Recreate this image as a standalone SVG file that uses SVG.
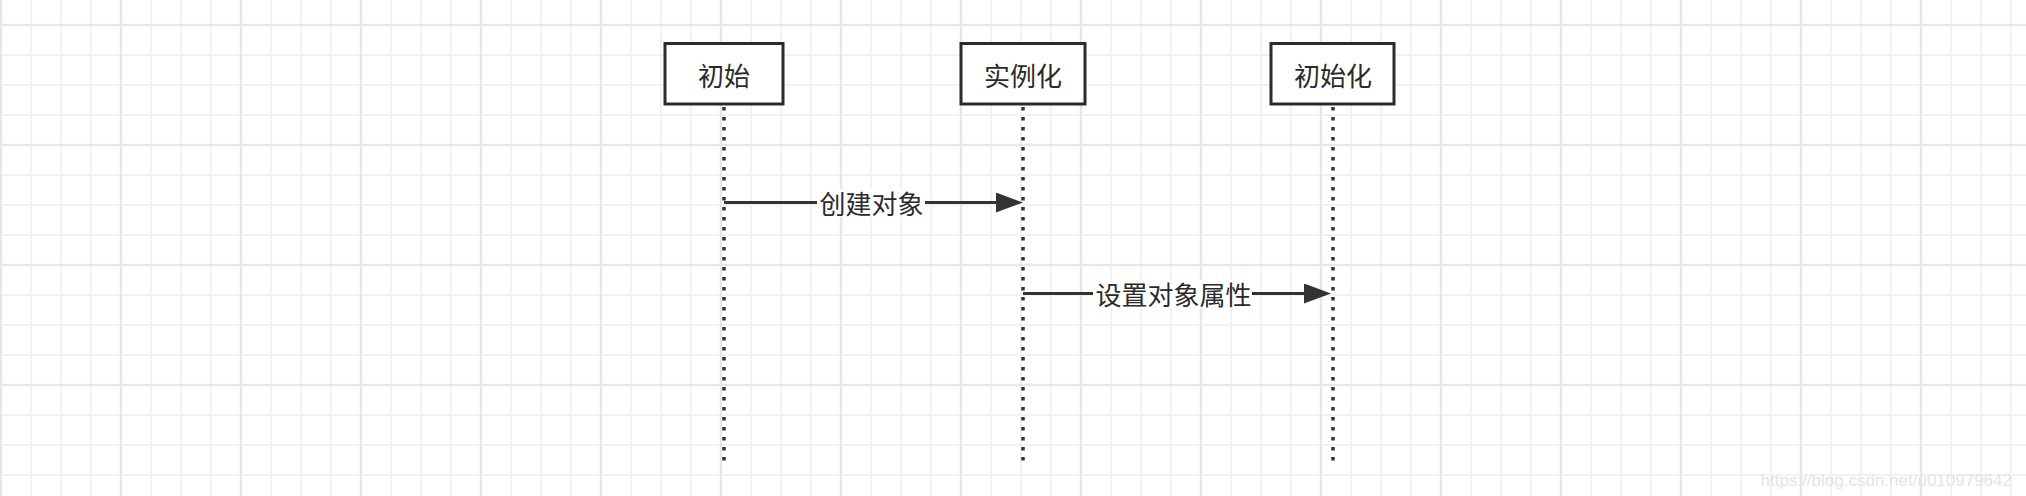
<svg xmlns="http://www.w3.org/2000/svg" width="2026" height="496" viewBox="0 0 2026 496">
  <defs>
    <pattern id="grid" patternUnits="userSpaceOnUse" x="-14" y="10" width="120" height="120">
      <path d="M45,0V120M75,0V120M105,0V120M0,45H120M0,75H120M0,105H120" stroke="#f2f2f2" stroke-width="2" fill="none"/>
      <path d="M15,0V120M0,15H120" stroke="#e7e7e7" stroke-width="2.5" fill="none"/>
    </pattern>
    <marker id="arrow" markerUnits="userSpaceOnUse" viewBox="0 0 27 20" refX="0" refY="10" markerWidth="27" markerHeight="20" orient="auto">
      <path d="M0,0 L27,10 L0,20 Z" fill="#333333"/>
    </marker>
    <style>
      .box { fill: #ffffff; stroke: #2b2b2b; stroke-width: 3; }
      .life { stroke: #333333; stroke-width: 3.5; stroke-dasharray: 3.5 6.5; fill: none; }
      .msg { stroke: #333333; stroke-width: 3; fill: none; }
      .txt { font-family: "Noto Sans CJK SC", "Noto Sans", sans-serif; font-size: 26px; fill: #2a2a2a; text-anchor: middle; dominant-baseline: central; }
      .lblbg { fill: #ffffff; }
      .wm { font-family: "Liberation Sans", Arial, sans-serif; font-size: 17px; fill: #e4e4e4; text-anchor: end; }
    </style>
  </defs>
  <rect x="0" y="0" width="2026" height="496" fill="#ffffff"/>
  <rect x="0" y="0" width="2026" height="496" fill="url(#grid)"/>

  <g id="node-chushi">
    <line class="life" x1="724" y1="107" x2="724" y2="467"/>
    <rect class="box" x="665" y="43.5" width="118" height="60.5"/>
    <text class="txt" x="724" y="74.5">初始</text>
  </g>
  <g id="node-shilihua">
    <line class="life" x1="1023" y1="107" x2="1023" y2="467"/>
    <rect class="box" x="961" y="43.5" width="124" height="60.5"/>
    <text class="txt" x="1023" y="74.5">实例化</text>
  </g>
  <g id="node-chushihua">
    <line class="life" x1="1333" y1="107" x2="1333" y2="467"/>
    <rect class="box" x="1271" y="43.5" width="123" height="60.5"/>
    <text class="txt" x="1333" y="74.5">初始化</text>
  </g>

  <g id="connectors">
    <g id="edge-create">
      <line class="msg" x1="724" y1="202.5" x2="996" y2="202.5" marker-end="url(#arrow)"/>
      <rect class="lblbg" x="817" y="189" width="108" height="28"/>
      <text class="txt" x="871.5" y="202.5">创建对象</text>
    </g>
    <g id="edge-set">
      <line class="msg" x1="1023" y1="293.5" x2="1304" y2="293.5" marker-end="url(#arrow)"/>
      <rect class="lblbg" x="1093" y="280" width="159" height="28"/>
      <text class="txt" x="1173.5" y="293.5">设置对象属性</text>
    </g>
  </g>

  <text class="wm" x="2012" y="486">https://blog.csdn.net/u010979642</text>
</svg>
